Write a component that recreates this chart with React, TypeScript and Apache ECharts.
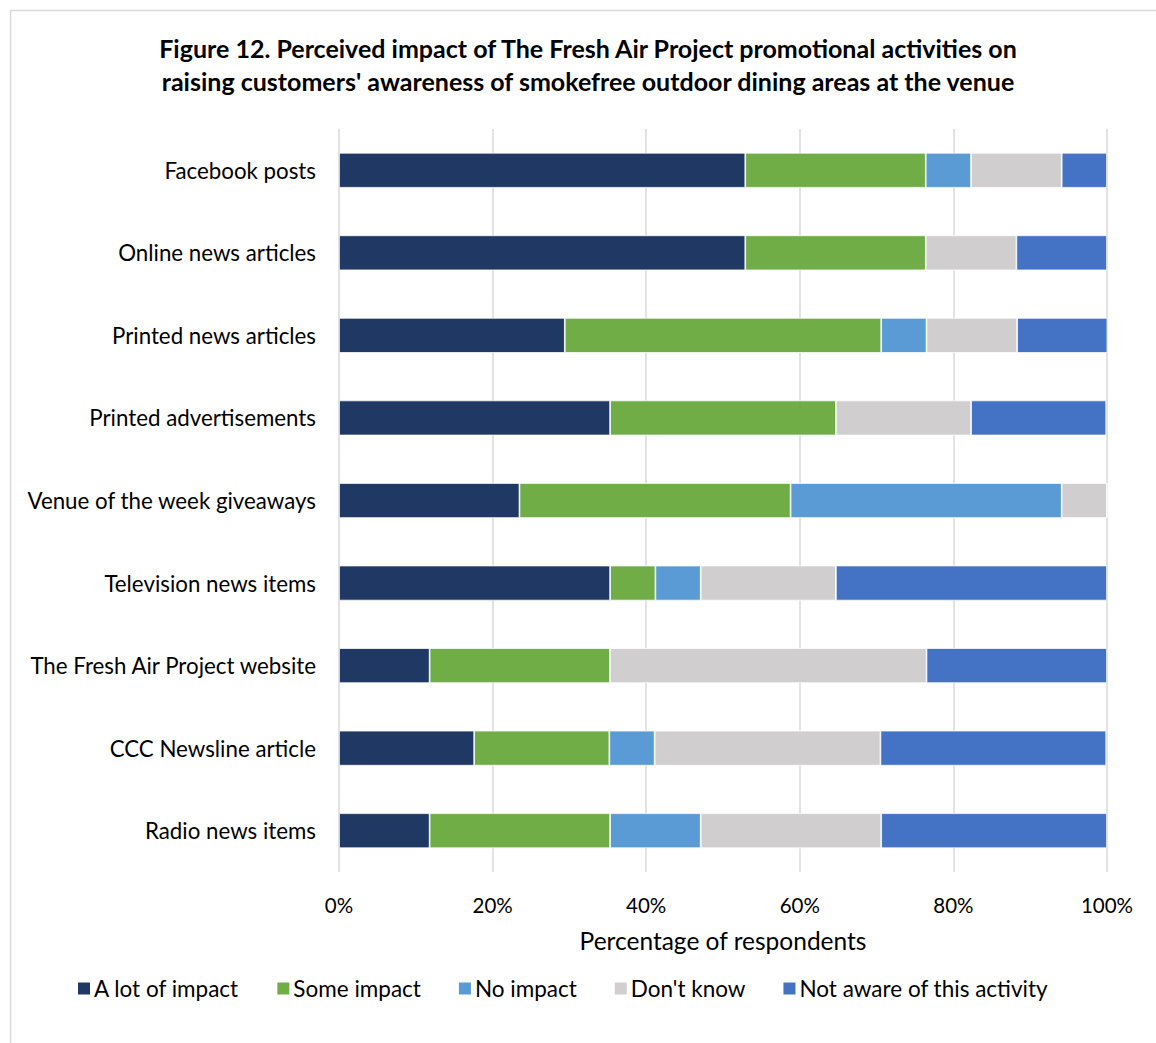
import React, { useEffect, useRef } from "react";
import * as echarts from "echarts";

const categories = [
  "Facebook posts",
  "Online news articles",
  "Printed news articles",
  "Printed advertisements",
  "Venue of the week giveaways",
  "Television news items",
  "The Fresh Air Project website",
  "CCC Newsline article",
  "Radio news items",
];

const seriesNames = ["A lot of impact", "Some impact", "No impact", "Don't know", "Not aware of this activity"];
const seriesColors = ["#203864", "#70AD47", "#5B9BD5", "#D0CECE", "#4472C4"];

const aLotOfImpact = [52.9, 52.9, 29.4, 35.3, 23.5, 35.3, 11.8, 17.6, 11.8];
const someImpact = [23.5, 23.5, 41.2, 29.4, 35.3, 5.9, 23.5, 17.6, 23.5];
const noImpact = [5.9, 0, 5.9, 0, 35.3, 5.9, 0, 5.9, 11.8];
const dontKnow = [11.8, 11.8, 11.8, 17.6, 5.9, 17.6, 41.2, 29.4, 23.5];
const notAware = [5.9, 11.8, 11.8, 17.6, 0, 35.3, 23.5, 29.4, 29.4];

const seriesData = [aLotOfImpact, someImpact, noImpact, dontKnow, notAware];
const xTicks = [0, 20, 40, 60, 80, 100];

const FONT = "Lato, 'Open Sans', sans-serif";

export default function App() {
  const ref = useRef<HTMLDivElement>(null);
  useEffect(() => {
    document.body.style.margin = "0";
    const chart = echarts.init(ref.current!, undefined, { renderer: "svg" });
    chart.setOption({
      animation: false,
      backgroundColor: "#ffffff",
      textStyle: { fontFamily: FONT },
      title: {
        text: "Figure 12. Perceived impact of The Fresh Air Project promotional activities on\nraising customers' awareness of smokefree outdoor dining areas at the venue",
        left: 583,
        top: 26,
        textAlign: "center",
        textStyle: { fontFamily: FONT, fontSize: 25, fontWeight: "bold", color: "#000", lineHeight: 33 },
      },
      graphic: [
        {
          type: "rect",
          shape: { x: 10.5, y: 10.5, width: 1160, height: 1040 },
          style: { fill: "none", stroke: "#D9D9D9", lineWidth: 1.5 },
          silent: true,
        },
      ],
      legend: {
        left: 71,
        top: 972,
        itemWidth: 14,
        itemHeight: 14,
        itemGap: 36,
        icon: "rect",
        textStyle: { fontFamily: FONT, fontSize: 22.5, color: "#000", padding: [0, 0, 0, -2] },
        data: seriesNames,
      },
      grid: { left: 339, right: 49, top: 129, bottom: 171, containLabel: false },
      xAxis: {
        type: "value",
        min: 0,
        max: 100,
        interval: 20,
        axisLabel: {
          formatter: (v: number) => (xTicks.includes(v) ? v + "%" : ""),
          fontFamily: FONT,
          fontSize: 20.5,
          color: "#000",
          margin: 22,
        },
        axisLine: { show: false },
        axisTick: { show: false },
        splitLine: { show: true, lineStyle: { color: "#D9D9D9", width: 1.5 } },
        name: "Percentage of respondents",
        nameLocation: "middle",
        nameGap: 56,
        nameTextStyle: { fontFamily: FONT, fontSize: 24.5, color: "#000" },
      },
      yAxis: {
        type: "category",
        inverse: true,
        data: categories,
        axisLine: { show: false },
        axisTick: { show: false },
        axisLabel: { fontFamily: FONT, fontSize: 22.3, color: "#000", margin: 23 },
      },
      series: seriesNames.map((name, i) => ({
        name,
        type: "bar",
        stack: "total",
        barWidth: 35,
        data: seriesData[i],
        itemStyle: { color: seriesColors[i], borderColor: "#ffffff", borderWidth: 0.75 },
      })),
    });
    return () => chart.dispose();
  }, []);
  return <div ref={ref} style={{ position: "absolute", left: 0, top: 0, width: 1156, height: 1043 }} />;
}
